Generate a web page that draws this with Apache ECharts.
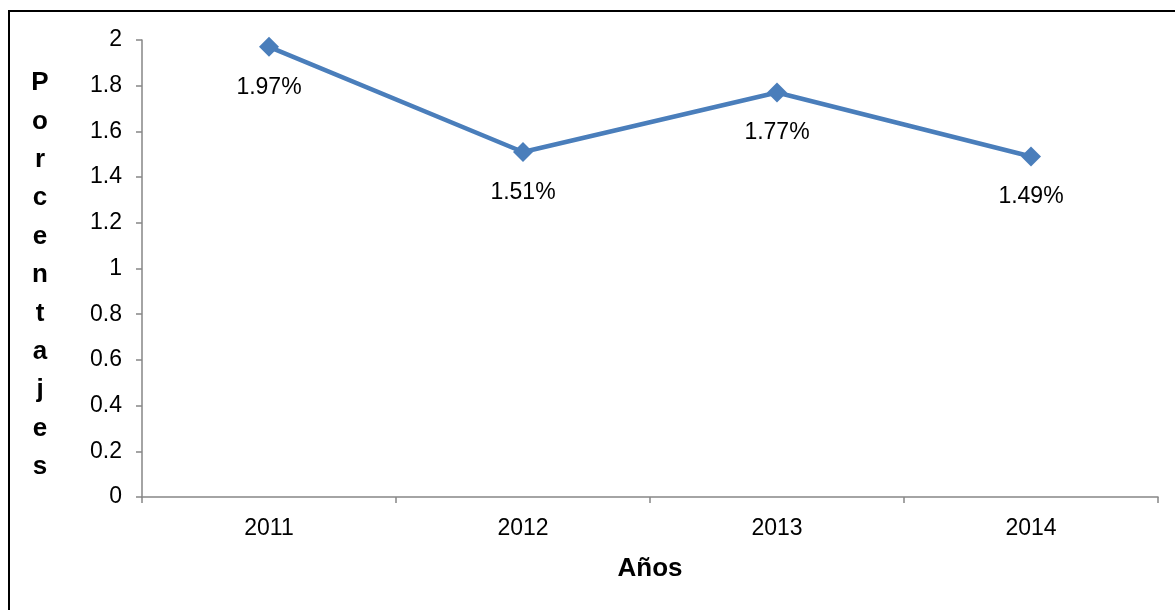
<!DOCTYPE html>
<html>
<head>
<meta charset="utf-8">
<script src="https://cdn.jsdelivr.net/npm/echarts@6/dist/echarts.min.js"></script>
<style>
html,body{margin:0;padding:0;background:#fff;}
#c{width:1175px;height:610px;}
</style>
</head>
<body>
<div id="c"></div>
<script>
const categories = ['2011', '2012', '2013', '2014'];
const values = [1.97, 1.51, 1.77, 1.49];
const yTicks = { min: 0, max: 2, interval: 0.2 };
const xTitle = 'Años';
const yTitle = 'Porcentajes';

const FONT = '"Liberation Sans", Arial, sans-serif';
const chart = echarts.init(document.getElementById('c'), null, { renderer: 'canvas' });
chart.setOption({
  backgroundColor: '#ffffff',
  animation: false,
  graphic: [{
    type: 'rect',
    shape: { x: 9, y: 11, width: 1300, height: 800 },
    style: { fill: 'none', stroke: '#000', lineWidth: 2 },
    silent: true
  }, {
    type: 'text',
    x: 40,
    y: 275,
    silent: true,
    style: {
      text: yTitle.split('').join('\n'),
      fill: '#000',
      font: 'bold 26px "Liberation Sans", Arial, sans-serif',
      lineHeight: 38.4,
      align: 'center',
      verticalAlign: 'middle'
    }
  }],
  grid: { left: 142, right: 17, top: 40, bottom: 113 },
  xAxis: {
    type: 'category',
    data: categories,
    boundaryGap: true,
    axisLine: { lineStyle: { color: '#868686', width: 1.5 } },
    axisTick: { show: true, alignWithLabel: false, length: 6, lineStyle: { color: '#868686', width: 1.5 } },
    axisLabel: { color: '#000', fontFamily: FONT, fontSize: 23, margin: 20 },
    name: xTitle,
    nameLocation: 'middle',
    nameGap: 59,
    nameTextStyle: { color: '#000', fontFamily: FONT, fontSize: 26, fontWeight: 'bold' }
  },
  yAxis: {
    type: 'value',
    min: yTicks.min, max: yTicks.max, interval: yTicks.interval,
    axisLine: { show: true, lineStyle: { color: '#868686', width: 1.5 } },
    axisTick: { show: true, length: 6, lineStyle: { color: '#868686', width: 1.5 } },
    splitLine: { show: false },
    axisLabel: { color: '#000', fontFamily: FONT, fontSize: 23, margin: 20 }
  },
  series: [{
    type: 'line',
    data: values,
    symbol: 'diamond',
    symbolSize: 20,
    lineStyle: { color: '#4A7EBB', width: 4.5 },
    itemStyle: { color: '#4A7EBB' },
    label: {
      show: true,
      position: 'bottom',
      distance: 19,
      color: '#000',
      fontFamily: FONT,
      fontSize: 23,
      formatter: p => p.value.toFixed(2) + '%'
    }
  }]
});
</script>
</body>
</html>
